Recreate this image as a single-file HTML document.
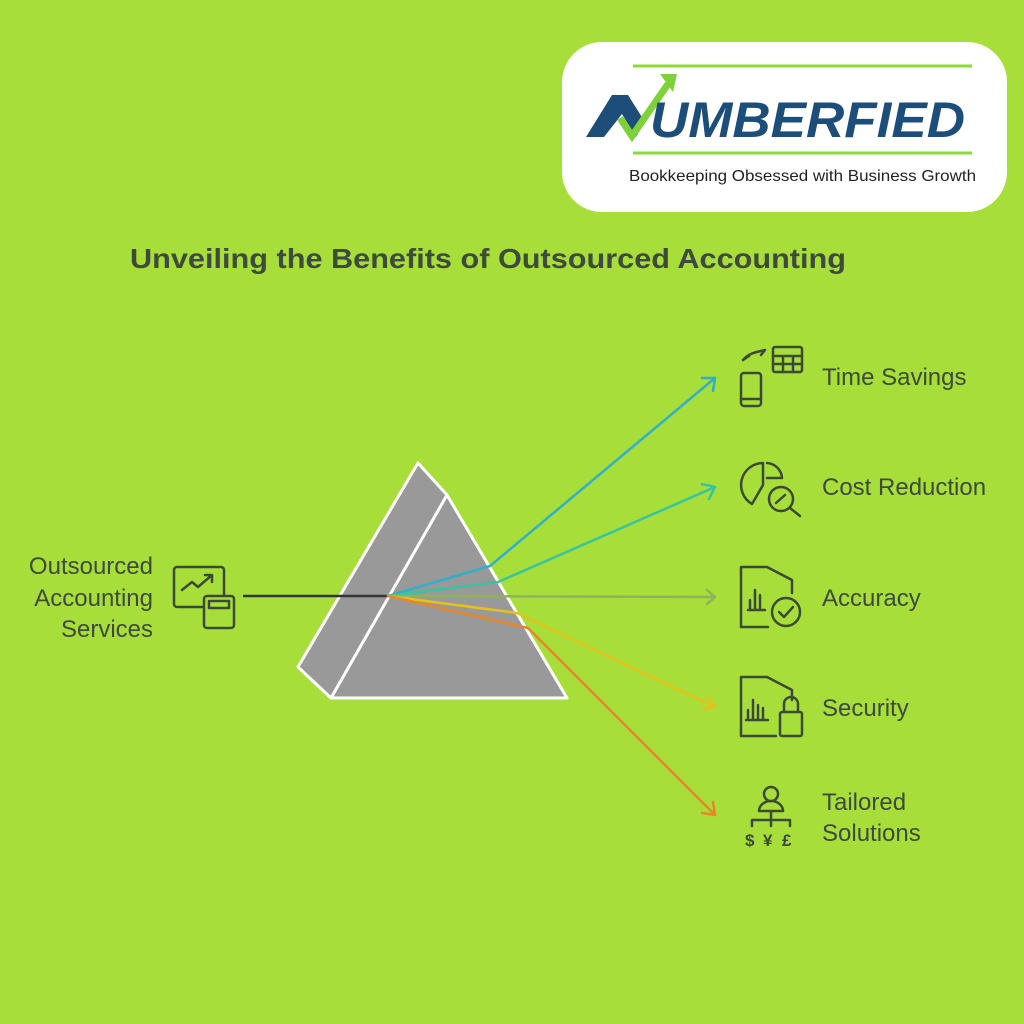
<!DOCTYPE html>
<html><head><meta charset="utf-8"><style>
body{margin:0;width:1024px;height:1024px;background:#a8de3a;overflow:hidden;font-family:"Liberation Sans",sans-serif}
</style></head><body>
<svg width="1024" height="1024" xmlns="http://www.w3.org/2000/svg" style="position:absolute;left:0;top:0">
<rect x="562" y="42" width="445" height="170" rx="40" fill="#fff"/>
<line x1="633" y1="66" x2="972" y2="66" stroke="#8ed83a" stroke-width="3"/>
<line x1="633" y1="153" x2="972" y2="153" stroke="#8ed83a" stroke-width="3"/>
<path d="M586,137 L612,95 L628,95 L645,122 L636,137 L622,114 L604,137Z" fill="#1d4e7a"/>
<path d="M620,118 L632,136 L668,84" fill="none" stroke="#7fd13a" stroke-width="7"/>
<path d="M660,74 L677,74 L673,92Z" fill="#7fd13a"/>
<text x="650" y="137" font-size="50" font-weight="bold" font-style="italic" fill="#1d4e7a" textLength="315" lengthAdjust="spacingAndGlyphs">UMBERFIED</text>
<text x="629" y="181" font-size="16" fill="#222" textLength="347" lengthAdjust="spacingAndGlyphs">Bookkeeping Obsessed with Business Growth</text>
<text x="130" y="268" font-size="28" font-weight="bold" fill="#3d4a3c" textLength="716" lengthAdjust="spacingAndGlyphs">Unveiling the Benefits of Outsourced Accounting</text>
<polygon points="418,463 447,495 567,698 331,698 298,667" fill="#999" stroke="#fff" stroke-width="3" stroke-linejoin="round"/>
<line x1="447" y1="495" x2="331" y2="698" stroke="#fff" stroke-width="3"/>
<line x1="243" y1="596" x2="388" y2="596" stroke="#333" stroke-width="2.5"/>
<g fill="none" stroke-width="2.5" stroke-linecap="round" stroke-linejoin="round">
<path d="M388,596 L490,566 L715,378" stroke="#2fb0c8"/><path d="M702,378 L715,378 L713,391" stroke="#2fb0c8"/>
<path d="M388,596 L498,582 L715,487" stroke="#38c4a0"/><path d="M702,484 L715,487 L709,499" stroke="#38c4a0"/>
<path d="M388,596 L715,597" stroke="#8fb35a"/><path d="M707,590 L715,597 L707,604" stroke="#8fb35a"/>
<path d="M388,596 L517,613 L715,707" stroke="#e5c21a"/><path d="M708,696 L715,707 L702,709" stroke="#e5c21a"/>
<path d="M388,596 L528,628 L715,815" stroke="#e8862a"/><path d="M713,802 L715,815 L702,813" stroke="#e8862a"/>
</g>
<g fill="none" stroke="#3b4a35" stroke-width="2.5" stroke-linecap="round" stroke-linejoin="round">
<rect x="174" y="567" width="50" height="40" rx="3"/><path d="M182,590 L192,582 L198,587 L212,575 M205,575 L212,575 L212,582"/>
<rect x="204" y="596" width="30" height="32" rx="3" fill="#a8de3a"/><rect x="209" y="601" width="20" height="7"/>
<rect x="741" y="373" width="20" height="33" rx="3"/><path d="M741,399 L761,399"/>
<rect x="773" y="347" width="29" height="25" rx="2"/><path d="M773,356 L802,356 M773,364 L802,364 M783,356 L783,372 M793,356 L793,372"/>
<path d="M743,360 C750,352 758,352 765,350 M743,360 L749,356 M765,350 L761,355"/>
<path d="M763,463 A22,22 0 0 0 752,504 L763,485 Z M767,463 A16,16 0 0 1 782,478 L767,478"/>
<circle cx="781" cy="499" r="12" fill="#a8de3a"/><path d="M790,508 L800,516 M776,503 L785,495"/>
<path d="M767,567 L741,567 L741,627 L768,627 M767,567 L792,580 L792,593"/><circle cx="786" cy="612" r="14"/><path d="M779,612 L784,617 L793,607"/>
<path d="M750,610 L750,600 M755,610 L755,590 M760,610 L760,595 M748,610 L765,610"/>
<path d="M767,677 L741,677 L741,736 L776,736 M767,677 L792,690 L792,700"/>
<rect x="780" y="712" width="22" height="24" rx="2"/><path d="M784,712 L784,704 A7,7 0 0 1 798,704 L798,712"/>
<path d="M748,720 L748,710 M753,720 L753,700 M758,720 L758,705 M763,720 L763,708 M746,720 L768,720"/>
<circle cx="771" cy="794" r="7"/><path d="M759,811 A12,10 0 0 1 783,811 Z M752,820 L790,820 M752,820 L752,826 M771,811 L771,826 M790,820 L790,826"/>
</g>
<g fill="#3b4a35" font-size="17" font-weight="bold"><text x="745" y="846">$</text><text x="763" y="846">¥</text><text x="782" y="846">£</text></g>
<g fill="#3d4a3c" font-size="24">
<text x="153" y="574" text-anchor="end">Outsourced</text>
<text x="153" y="606" text-anchor="end">Accounting</text>
<text x="153" y="637" text-anchor="end">Services</text>
<text x="822" y="385">Time Savings</text>
<text x="822" y="495">Cost Reduction</text>
<text x="822" y="606">Accuracy</text>
<text x="822" y="716">Security</text>
<text x="822" y="810">Tailored</text>
<text x="822" y="841">Solutions</text>
</g>
</svg>
</body></html>
